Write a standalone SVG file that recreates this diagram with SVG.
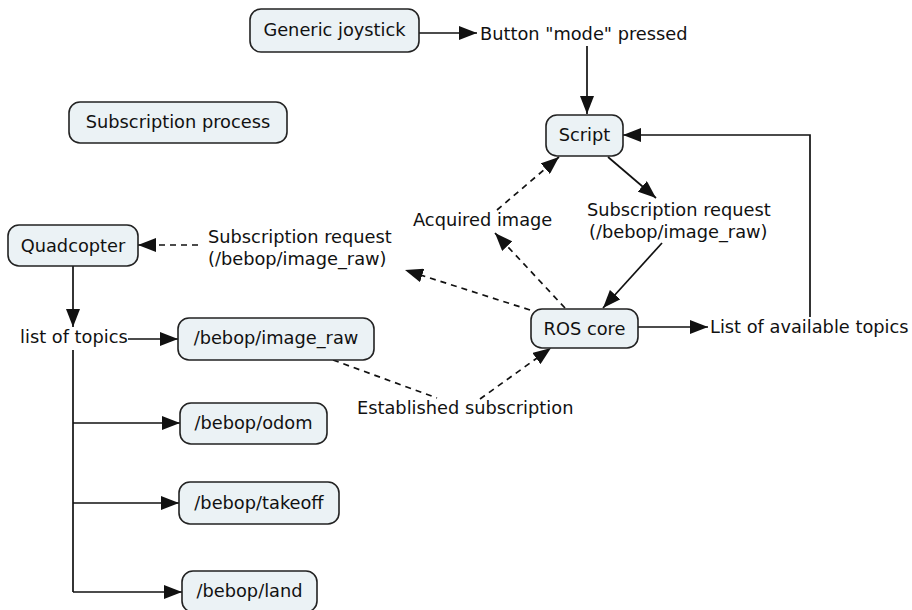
<svg xmlns="http://www.w3.org/2000/svg" width="912" height="610" viewBox="0 0 912 610">
  <style>
    text { font-family: "DejaVu Sans", Verdana, sans-serif; font-size: 17.8px; fill: #111; }
    .node rect { fill: #ebf2f5; stroke: #222; stroke-width: 1.6; }
    .node text { text-anchor: middle; }
    .edge { fill: none; stroke: #111; stroke-width: 1.7; }
    .arrow { marker-end: url(#head); }
    .dash { stroke-dasharray: 6 5; }
  </style>
  <defs>
    <marker id="head" markerUnits="userSpaceOnUse" markerWidth="18" markerHeight="14" refX="18" refY="7" orient="auto">
      <path d="M0,0 L18,7 L0,14 z" fill="#111"/>
    </marker>
  </defs>
  <rect width="912" height="610" fill="#ffffff"/>

  <!-- connectors -->
  <g id="connectors">
    <line class="edge arrow" x1="419" y1="33" x2="477" y2="33"/>
    <line class="edge arrow" x1="587" y1="46" x2="587" y2="114"/>
    <line class="edge arrow" x1="638" y1="327" x2="708" y2="327"/>
    <polyline class="edge arrow" points="810,317 810,135 623,135"/>
    <line class="edge arrow" x1="608" y1="157" x2="656" y2="198"/>
    <line class="edge arrow" x1="662" y1="243" x2="603" y2="308"/>
    <line class="edge arrow dash" x1="565" y1="308" x2="495" y2="233"/>
    <line class="edge arrow dash" x1="497" y1="210" x2="559" y2="157"/>
    <line class="edge arrow dash" x1="530" y1="310" x2="405" y2="270"/>
    <line class="edge arrow dash" x1="198" y1="245" x2="138" y2="245"/>
    <line class="edge dash" x1="333" y1="360" x2="437" y2="398"/>
    <line class="edge arrow dash" x1="480" y1="399" x2="551" y2="348"/>
    <line class="edge arrow" x1="73" y1="266" x2="73" y2="327"/>
    <line class="edge arrow" x1="128" y1="339" x2="178" y2="339"/>
    <polyline class="edge" points="73,350 73,592"/>
    <line class="edge arrow" x1="73" y1="423" x2="180" y2="423"/>
    <line class="edge arrow" x1="73" y1="503" x2="179" y2="503"/>
    <line class="edge arrow" x1="73" y1="592" x2="182" y2="592"/>
  </g>

  <!-- boxed nodes -->
  <g id="generic-joystick" class="node">
    <rect x="250" y="9" width="169" height="43" rx="11"/>
    <text x="334.5" y="36">Generic joystick</text>
  </g>
  <g id="subscription-process" class="node">
    <rect x="69" y="102" width="218" height="41" rx="11"/>
    <text x="178" y="128">Subscription process</text>
  </g>
  <g id="script" class="node">
    <rect x="546" y="115" width="77" height="41" rx="11"/>
    <text x="584.5" y="141">Script</text>
  </g>
  <g id="quadcopter" class="node">
    <rect x="8" y="225" width="130" height="41" rx="11"/>
    <text x="73" y="252">Quadcopter</text>
  </g>
  <g id="ros-core" class="node">
    <rect x="531" y="309" width="107" height="39" rx="11"/>
    <text x="584.5" y="335">ROS core</text>
  </g>
  <g id="topic-image-raw" class="node">
    <rect x="178" y="318" width="196" height="42" rx="11"/>
    <text x="276" y="344">/bebop/image_raw</text>
  </g>
  <g id="topic-odom" class="node">
    <rect x="180" y="403" width="147" height="41" rx="11"/>
    <text x="253.5" y="429">/bebop/odom</text>
  </g>
  <g id="topic-takeoff" class="node">
    <rect x="179" y="482" width="160" height="42" rx="11"/>
    <text x="259" y="509">/bebop/takeoff</text>
  </g>
  <g id="topic-land" class="node">
    <rect x="182" y="571" width="135" height="41" rx="11"/>
    <text x="249.5" y="597">/bebop/land</text>
  </g>

  <!-- free-standing labels -->
  <g id="button-mode-pressed">
    <text x="480" y="40">Button "mode" pressed</text>
  </g>
  <g id="acquired-image">
    <text x="413" y="226">Acquired image</text>
  </g>
  <g id="subscription-request-right">
    <text x="587" y="216">Subscription request</text>
    <text x="589" y="238">(/bebop/image_raw)</text>
  </g>
  <g id="subscription-request-left">
    <text x="208" y="243">Subscription request</text>
    <text x="208" y="265">(/bebop/image_raw)</text>
  </g>
  <g id="list-of-available-topics">
    <text x="710" y="333">List of available topics</text>
  </g>
  <g id="list-of-topics">
    <text x="20" y="343">list of topics</text>
  </g>
  <g id="established-subscription">
    <text x="357" y="414">Established subscription</text>
  </g>
</svg>
